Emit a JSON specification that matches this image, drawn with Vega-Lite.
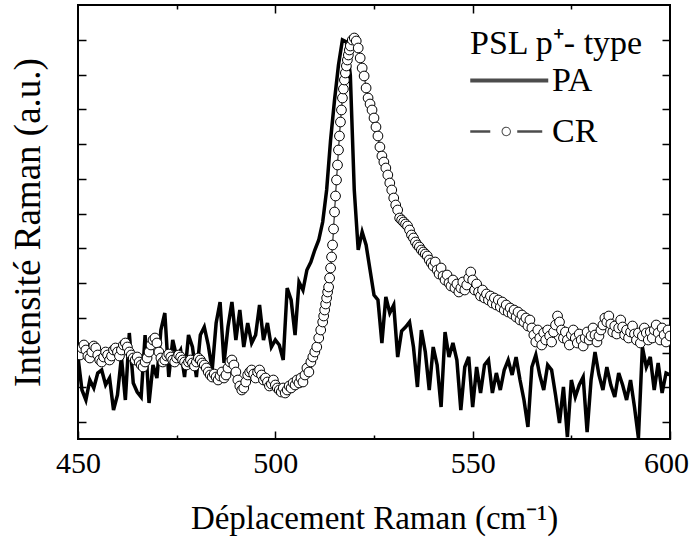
{
  "$schema": "https://vega.github.io/schema/vega-lite/v6.json",
  "autosize": {"type": "none"},
  "padding": {"left": 78, "top": 5, "right": 21, "bottom": 100},
  "width": 592,
  "height": 434,
  "background": "white",
  "config": {
    "view": {"stroke": "black", "strokeWidth": 2},
    "font": "Liberation Serif",
    "axis": {"grid": false, "domain": false, "tickColor": "black", "tickWidth": 1.5, "labelFont": "Liberation Serif", "titleFont": "Liberation Serif", "labelColor": "black", "titleColor": "black", "titleFontWeight": "normal"}
  },
  "datasets": {
    "pa": [
      {"x":450,"y":82},{"x":451,"y":49},{"x":452,"y":39},{"x":453,"y":59},{"x":454,"y":51},{"x":455,"y":66},{"x":456,"y":69},{"x":457,"y":54},{"x":458,"y":61},{"x":459,"y":29},
      {"x":460,"y":44},{"x":461,"y":82},{"x":462,"y":39},{"x":463,"y":106},{"x":464,"y":56},{"x":465,"y":47},{"x":466,"y":42},{"x":467,"y":104},{"x":468,"y":36},{"x":469,"y":74},
      {"x":470,"y":61},{"x":471,"y":109},{"x":472,"y":126},{"x":473,"y":62},{"x":474,"y":99},{"x":475,"y":82},{"x":476,"y":89},{"x":477,"y":62},{"x":478,"y":104},{"x":479,"y":92},
      {"x":480,"y":62},{"x":481,"y":104},{"x":482,"y":112},{"x":483,"y":94},{"x":484,"y":69},{"x":485,"y":116},{"x":486,"y":137},{"x":487,"y":76},{"x":488,"y":112},{"x":489,"y":137},
      {"x":490,"y":99},{"x":491,"y":129},{"x":492,"y":92},{"x":493,"y":116},{"x":494,"y":96},{"x":495,"y":104},{"x":496,"y":134},{"x":497,"y":99},{"x":498,"y":116},{"x":499,"y":92},
      {"x":500,"y":99},{"x":501,"y":94},{"x":502,"y":79},{"x":503,"y":151},{"x":504,"y":139},{"x":505,"y":104},{"x":506,"y":157},{"x":507,"y":149},{"x":508,"y":169},{"x":509,"y":177},
      {"x":510,"y":189},{"x":511,"y":199},{"x":512,"y":217},{"x":513,"y":249},{"x":514,"y":299},{"x":515,"y":339},{"x":516,"y":374},{"x":517,"y":399},{"x":518,"y":397},{"x":519,"y":364},
      {"x":520,"y":249},{"x":521,"y":189},{"x":522,"y":207},{"x":523,"y":194},{"x":524,"y":169},{"x":525,"y":144},{"x":526,"y":139},{"x":527,"y":96},{"x":528,"y":142},{"x":529,"y":126},
      {"x":530,"y":134},{"x":531,"y":82},{"x":532,"y":108},{"x":533,"y":112},{"x":534,"y":117},{"x":535,"y":92},{"x":536,"y":52},{"x":537,"y":109},{"x":538,"y":87},{"x":539,"y":49},
      {"x":540,"y":92},{"x":541,"y":74},{"x":542,"y":32},{"x":543,"y":107},{"x":544,"y":82},{"x":545,"y":96},{"x":546,"y":79},{"x":547,"y":29},{"x":548,"y":72},{"x":549,"y":82},
      {"x":550,"y":32},{"x":551,"y":72},{"x":552,"y":46},{"x":553,"y":74},{"x":554,"y":79},{"x":555,"y":46},{"x":556,"y":66},{"x":557,"y":49},{"x":558,"y":69},{"x":559,"y":79},
      {"x":560,"y":64},{"x":561,"y":82},{"x":562,"y":59},{"x":563,"y":39},{"x":564,"y":12},{"x":565,"y":72},{"x":566,"y":84},{"x":567,"y":64},{"x":568,"y":49},{"x":569,"y":74},
      {"x":570,"y":69},{"x":571,"y":44},{"x":572,"y":16},{"x":573,"y":52},{"x":574,"y":2},{"x":575,"y":59},{"x":576,"y":42},{"x":577,"y":54},{"x":578,"y":62},{"x":579,"y":7},
      {"x":580,"y":59},{"x":581,"y":87},{"x":582,"y":64},{"x":583,"y":49},{"x":584,"y":72},{"x":585,"y":54},{"x":586,"y":42},{"x":587,"y":66},{"x":588,"y":54},{"x":589,"y":39},
      {"x":590,"y":59},{"x":591,"y":32},{"x":592,"y":1},{"x":593,"y":92},{"x":594,"y":72},{"x":595,"y":82},{"x":596,"y":49},{"x":597,"y":76},{"x":598,"y":46},{"x":599,"y":66},
      {"x":600,"y":64}
    ],
    "cr": [
      {"x":450,"y":87},{"x":450.5,"y":84},{"x":451,"y":91},{"x":451.5,"y":94},{"x":452,"y":89},{"x":452.5,"y":83},{"x":453,"y":81},{"x":453.5,"y":87},{"x":454,"y":93},{"x":454.5,"y":91},
      {"x":455,"y":84},{"x":455.5,"y":79},{"x":456,"y":77},{"x":456.5,"y":82},{"x":457,"y":87},{"x":457.5,"y":84},{"x":458,"y":79},{"x":458.5,"y":83},{"x":459,"y":89},{"x":459.5,"y":91},
      {"x":460,"y":87},{"x":460.5,"y":83},{"x":461,"y":89},{"x":461.5,"y":94},{"x":462,"y":96},{"x":462.5,"y":92},{"x":463,"y":87},{"x":463.5,"y":84},{"x":464,"y":81},{"x":464.5,"y":79},
      {"x":465,"y":82},{"x":465.5,"y":77},{"x":466,"y":74},{"x":466.5,"y":72},{"x":467,"y":77},{"x":467.5,"y":81},{"x":468,"y":87},{"x":468.5,"y":94},{"x":469,"y":99},{"x":469.5,"y":101},
      {"x":470,"y":96},{"x":470.5,"y":87},{"x":471,"y":81},{"x":471.5,"y":77},{"x":472,"y":79},{"x":472.5,"y":83},{"x":473,"y":85},{"x":473.5,"y":82},{"x":474,"y":79},{"x":474.5,"y":77},
      {"x":475,"y":81},{"x":475.5,"y":84},{"x":476,"y":82},{"x":476.5,"y":79},{"x":477,"y":77},{"x":477.5,"y":74},{"x":478,"y":77},{"x":478.5,"y":79},{"x":479,"y":76},{"x":479.5,"y":73},
      {"x":480,"y":77},{"x":480.5,"y":81},{"x":481,"y":79},{"x":481.5,"y":76},{"x":482,"y":74},{"x":482.5,"y":71},{"x":483,"y":67},{"x":483.5,"y":64},{"x":484,"y":62},{"x":484.5,"y":65},
      {"x":485,"y":62},{"x":485.5,"y":59},{"x":486,"y":63},{"x":486.5,"y":67},{"x":487,"y":61},{"x":487.5,"y":64},{"x":488,"y":71},{"x":488.5,"y":77},{"x":489,"y":79},{"x":489.5,"y":74},
      {"x":490,"y":67},{"x":490.5,"y":59},{"x":491,"y":53},{"x":491.5,"y":49},{"x":492,"y":51},{"x":492.5,"y":57},{"x":493,"y":64},{"x":493.5,"y":67},{"x":494,"y":69},{"x":494.5,"y":65},
      {"x":495,"y":61},{"x":495.5,"y":67},{"x":496,"y":69},{"x":496.5,"y":64},{"x":497,"y":59},{"x":497.5,"y":61},{"x":498,"y":57},{"x":498.5,"y":53},{"x":499,"y":55},{"x":499.5,"y":59},
      {"x":500,"y":54},{"x":500.5,"y":51},{"x":501,"y":49},{"x":501.5,"y":47},{"x":502,"y":51},{"x":502.5,"y":46},{"x":503,"y":49},{"x":503.5,"y":53},{"x":504,"y":51},{"x":504.5,"y":56},
      {"x":505,"y":54},{"x":505.5,"y":59},{"x":506,"y":56},{"x":506.5,"y":61},{"x":507,"y":57},{"x":507.5,"y":64},{"x":508,"y":71},{"x":508.5,"y":67},{"x":509,"y":77},{"x":509.5,"y":82},
      {"x":510,"y":87},{"x":510.5,"y":92},{"x":511,"y":101},{"x":511.5,"y":109},{"x":512,"y":117},{"x":512.25,"y":123},{"x":512.5,"y":129},{"x":512.75,"y":135},{"x":513,"y":141},{"x":513.25,"y":147},
      {"x":513.5,"y":152},{"x":513.75,"y":161},{"x":514,"y":171},{"x":514.25,"y":182},{"x":514.5,"y":194},{"x":514.75,"y":210},{"x":515,"y":227},{"x":515.25,"y":243},{"x":515.5,"y":259},{"x":515.75,"y":274},
      {"x":516,"y":289},{"x":516.25,"y":303},{"x":516.5,"y":317},{"x":516.75,"y":329},{"x":517,"y":341},{"x":517.25,"y":350},{"x":517.5,"y":359},{"x":517.75,"y":366},{"x":518,"y":373},{"x":518.25,"y":379},
      {"x":518.5,"y":384},{"x":518.75,"y":389},{"x":519,"y":393},{"x":519.5,"y":399},{"x":520,"y":401},{"x":520.5,"y":398},{"x":521,"y":391},{"x":521.5,"y":381},{"x":522,"y":371},{"x":522.5,"y":363},
      {"x":523,"y":351},{"x":523.5,"y":341},{"x":524,"y":335},{"x":524.5,"y":329},{"x":525,"y":321},{"x":525.5,"y":312},{"x":526,"y":303},{"x":526.5,"y":292},{"x":527,"y":283},{"x":527.5,"y":277},
      {"x":528,"y":271},{"x":528.5,"y":264},{"x":529,"y":256},{"x":529.5,"y":249},{"x":530,"y":241},{"x":530.5,"y":234},{"x":531,"y":229},{"x":531.5,"y":221},{"x":532,"y":219},{"x":532.5,"y":217},
      {"x":533,"y":215},{"x":533.5,"y":213},{"x":534,"y":209},{"x":534.5,"y":204},{"x":535,"y":201},{"x":535.5,"y":197},{"x":536,"y":194},{"x":536.5,"y":192},{"x":537,"y":189},{"x":537.5,"y":187},
      {"x":538,"y":185},{"x":538.5,"y":183},{"x":539,"y":179},{"x":539.5,"y":176},{"x":540,"y":173},{"x":540.5,"y":177},{"x":541,"y":169},{"x":541.5,"y":165},{"x":542,"y":171},{"x":542.5,"y":163},
      {"x":543,"y":159},{"x":543.5,"y":164},{"x":544,"y":156},{"x":544.5,"y":153},{"x":545,"y":159},{"x":545.5,"y":151},{"x":546,"y":155},{"x":546.5,"y":147},{"x":547,"y":151},{"x":547.5,"y":157},
      {"x":548,"y":149},{"x":548.5,"y":154},{"x":549,"y":161},{"x":549.5,"y":167},{"x":550,"y":159},{"x":550.5,"y":149},{"x":551,"y":155},{"x":551.5,"y":147},{"x":552,"y":143},{"x":552.5,"y":149},
      {"x":553,"y":141},{"x":553.5,"y":145},{"x":554,"y":139},{"x":554.5,"y":143},{"x":555,"y":136},{"x":555.5,"y":141},{"x":556,"y":134},{"x":556.5,"y":139},{"x":557,"y":132},{"x":557.5,"y":137},
      {"x":558,"y":129},{"x":558.5,"y":134},{"x":559,"y":127},{"x":559.5,"y":131},{"x":560,"y":125},{"x":560.5,"y":129},{"x":561,"y":122},{"x":561.5,"y":127},{"x":562,"y":119},{"x":562.5,"y":124},
      {"x":563,"y":117},{"x":563.5,"y":121},{"x":564,"y":113},{"x":564.5,"y":119},{"x":565,"y":111},{"x":565.5,"y":104},{"x":566,"y":97},{"x":566.5,"y":109},{"x":567,"y":101},{"x":567.5,"y":94},
      {"x":568,"y":106},{"x":568.5,"y":99},{"x":569,"y":109},{"x":569.5,"y":103},{"x":570,"y":97},{"x":570.5,"y":107},{"x":571,"y":114},{"x":571.5,"y":123},{"x":572,"y":117},{"x":572.5,"y":109},
      {"x":573,"y":101},{"x":573.5,"y":107},{"x":574,"y":99},{"x":574.5,"y":94},{"x":575,"y":104},{"x":575.5,"y":109},{"x":576,"y":101},{"x":576.5,"y":96},{"x":577,"y":105},{"x":577.5,"y":99},
      {"x":578,"y":93},{"x":578.5,"y":101},{"x":579,"y":107},{"x":579.5,"y":99},{"x":580,"y":103},{"x":580.5,"y":111},{"x":581,"y":104},{"x":581.5,"y":97},{"x":582,"y":103},{"x":582.5,"y":109},
      {"x":583,"y":114},{"x":583.5,"y":121},{"x":584,"y":117},{"x":584.5,"y":123},{"x":585,"y":115},{"x":585.5,"y":107},{"x":586,"y":113},{"x":586.5,"y":105},{"x":587,"y":111},{"x":587.5,"y":119},
      {"x":588,"y":112},{"x":588.5,"y":104},{"x":589,"y":109},{"x":589.5,"y":101},{"x":590,"y":107},{"x":590.5,"y":113},{"x":591,"y":105},{"x":591.5,"y":99},{"x":592,"y":106},{"x":592.5,"y":96},
      {"x":593,"y":103},{"x":593.5,"y":111},{"x":594,"y":106},{"x":594.5,"y":99},{"x":595,"y":107},{"x":595.5,"y":101},{"x":596,"y":109},{"x":596.5,"y":114},{"x":597,"y":106},{"x":597.5,"y":99},
      {"x":598,"y":111},{"x":598.5,"y":104},{"x":599,"y":97},{"x":599.5,"y":109},{"x":600,"y":103}
    ],
    "series": [{"series": "PA"}, {"series": "CR"}]
  },
  "layer": [
    {
      "data": {"name": "pa"},
      "mark": {"type": "line", "color": "black", "strokeWidth": 3.5, "clip": true},
      "encoding": {
        "x": {"field": "x", "type": "quantitative", "scale": {"domain": [450, 600], "nice": false, "zero": false},
          "axis": {"orient": "bottom", "values": [450, 475, 500, 525, 550, 575, 600],
            "labelExpr": "datum.value % 50 === 0 ? datum.label : ''",
            "tickSize": {"condition": {"test": "datum.value % 50 === 0", "value": -8}, "value": -4},
            "labelOffset": {"condition": {"test": "datum.value === 600", "value": -4}, "value": 0},
            "labelFontSize": 30, "labelPadding": 17, "labelFlush": false,
            "title": "Déplacement Raman (cm⁻¹)", "titleFontSize": 33, "titlePadding": 24}},
        "y": {"field": "y", "type": "quantitative", "scale": {"domain": [0, 434], "nice": false, "zero": false},
          "axis": {"orient": "left", "values": [17.1, 51.8, 86.5, 121.2, 156, 190.7, 225.4, 260.1, 294.8, 329.6, 364.3, 399],
            "labels": false, "tickSize": -8, "title": "Intensité Raman (a.u.)", "titleFontSize": 37, "titlePadding": 30}}
      }
    },
    {
      "data": {"name": "cr"},
      "mark": {"type": "line", "color": "black", "strokeWidth": 1, "clip": true},
      "encoding": {
        "x": {"field": "x", "type": "quantitative",
          "axis": {"orient": "top", "values": [475, 500, 525, 550, 575], "labels": false, "title": null,
            "tickSize": {"condition": {"test": "datum.value % 50 === 0", "value": -8}, "value": -4}}},
        "y": {"field": "y", "type": "quantitative",
          "axis": {"orient": "right", "values": [17.1, 51.8, 86.5, 121.2, 156, 190.7, 225.4, 260.1, 294.8, 329.6, 364.3, 399],
            "labels": false, "tickSize": -8, "title": null}}
      }
    },
    {
      "data": {"name": "cr"},
      "mark": {"type": "point", "shape": "circle", "filled": true, "fill": "white", "stroke": "black", "strokeWidth": 1, "size": 95, "opacity": 1, "clip": true},
      "encoding": {
        "x": {"field": "x", "type": "quantitative", "axis": null},
        "y": {"field": "y", "type": "quantitative", "axis": null}
      }
    },
    {
      "data": {"name": "series"},
      "mark": {"type": "point", "filled": true, "color": "black", "clip": true},
      "encoding": {
        "x": {"datum": 430, "type": "quantitative", "axis": null},
        "y": {"datum": -50, "type": "quantitative", "axis": null},
        "shape": {"field": "series", "type": "nominal",
          "scale": {"domain": ["PA", "CR"], "range": [
            "M-1,-0.059L1.346,-0.059L1.346,0.059L-1,0.059Z",
            "M-1,-0.035L-0.398,-0.035L-0.398,0.035L-1,0.035Z M0.413,-0.035L1.165,-0.035L1.165,0.035L0.413,0.035Z M0.224,0A0.141,0.141 0 1,1 -0.058,0A0.141,0.141 0 1,1 0.224,0Z M0.194,0A0.111,0.111 0 1,0 -0.028,0A0.111,0.111 0 1,0 0.194,0Z"
          ]},
          "legend": {
            "orient": "none", "legendX": 392, "legendY": 22,
            "title": "PSL p⁺- type", "titleFont": "Liberation Serif", "titleFontSize": 34, "titleFontWeight": "normal", "titleColor": "black", "titlePadding": -14,
            "labelFont": "Liberation Serif", "labelFontSize": 34, "labelColor": "black", "labelOffset": 15,
            "symbolSize": 4422, "symbolStrokeWidth": 0, "symbolFillColor": "black", "rowPadding": 0
          }
        }
      }
    }
  ],
  "resolve": {"axis": {"x": "independent", "y": "independent"}}
}
